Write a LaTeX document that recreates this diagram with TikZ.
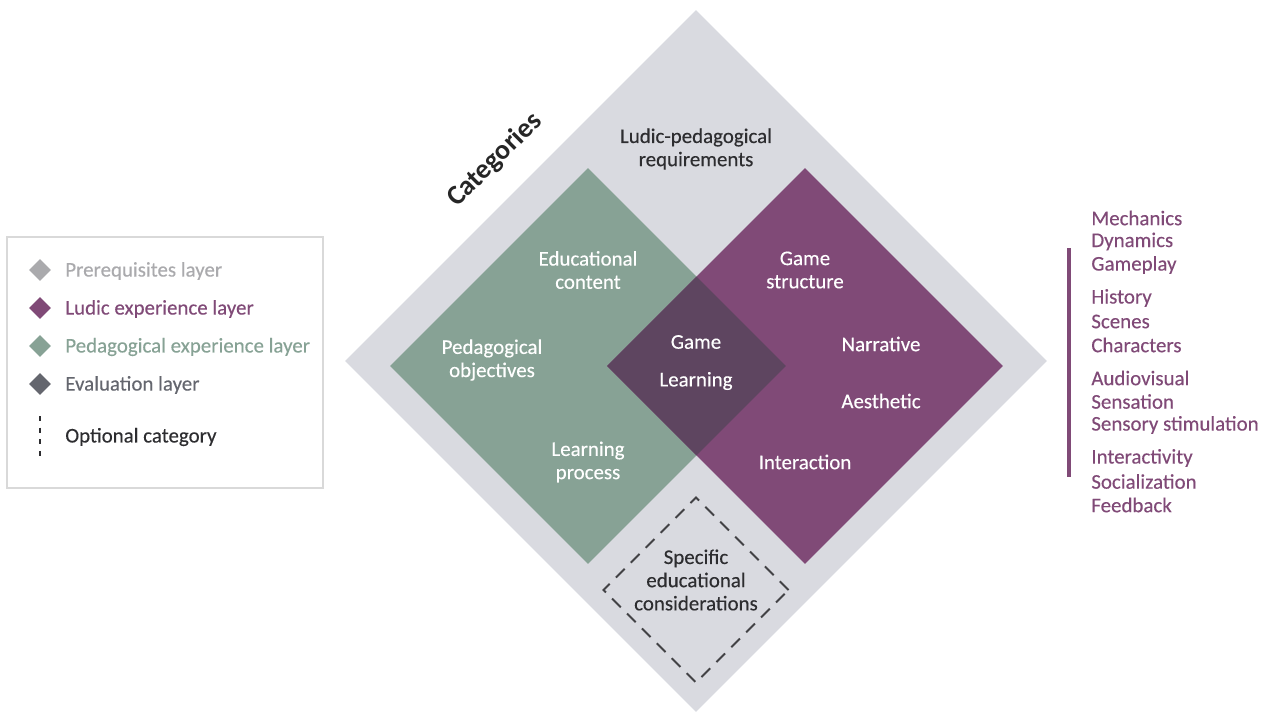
\documentclass[tikz,border=0pt]{standalone}
\usepackage{fontspec}
\setmainfont{Carlito}
\newfontfamily\medium{Carlito}[FakeBold=0.3]
\usetikzlibrary{shapes.geometric}
\definecolor{grisfond}{RGB}{217,218,224}
\definecolor{pedago}{RGB}{135,162,149}
\definecolor{ludique}{RGB}{128,74,119}
\definecolor{evalu}{RGB}{94,69,96}
\definecolor{prereq}{RGB}{170,170,173}
\definecolor{evalgris}{RGB}{100,102,110}
\definecolor{texte}{RGB}{45,45,48}

\begin{document}
\begin{tikzpicture}[x=0.02cm, y=-0.02cm, font=\medium\fontsize{11.9}{13.2}\selectfont,
	losange/.style={diamond, aspect=1, inner sep=0pt},
	blanc/.style={text=white, align=center},
	noir/.style={text=texte, align=center},
	puce/.style={diamond, aspect=1, inner sep=0pt, minimum size=0.44cm},
	legende/.style={anchor=west, inner sep=0pt},
	liste/.style={text=ludique, anchor=west, inner sep=0pt}]
	\useasboundingbox (0,0) rectangle (1272,711);
	
	% layers
	\node[losange, fill=grisfond, minimum size=14.04cm] (req) at (696,361) {};
	\node[losange, fill=pedago, minimum size=7.92cm] (ped) at (588,366) {};
	\node[losange, fill=ludique, minimum size=7.92cm] (lud) at (805,366) {};
	\node[losange, fill=evalu, minimum size=3.58cm] (eva) at (696.5,366) {};
	\node[losange, draw=texte!90, dash pattern=on 7pt off 5pt, line width=1.1pt,
	minimum size=3.72cm] (opt) at (696,590) {};
	
	\node[noir, font=\rmfamily\fontsize{15.8}{18}\selectfont\bfseries, text=black!85,
	rotate=45] (cat) at (495,160) {Categories};
	
	% labels
	\node[noir] (lpr) at (696,149) {Ludic-pedagogical\\requirements};
	\node[blanc] (edc) at (588,270) {Educational\\content};
	\node[blanc] (pob) at (492,360) {Pedagogical\\objectives};
	\node[blanc] (lpc) at (588,462) {Learning\\process};
	\node[blanc] (gam) at (696,342) {Game};
	\node[blanc] (lrn) at (696,381) {Learning};
	\node[blanc] (gst) at (805,270) {Game\\structure};
	\node[blanc] (nar) at (881,344) {Narrative};
	\node[blanc] (aes) at (881,401) {Aesthetic};
	\node[blanc] (int) at (805,462) {Interaction};
	\node[noir] (sec) at (696,580) {Specific\\educational\\considerations};
	
	% legend
	\node[draw=black!15, line width=0.8pt, minimum width=6.32cm, minimum height=5.02cm,
	inner sep=0pt] (leg) at (165,362.5) {};
	\node[puce, fill=prereq] (p1) at (40,270) {};
	\node[puce, fill=ludique] (p2) at (40,308) {};
	\node[puce, fill=pedago] (p3) at (40,346) {};
	\node[puce, fill=evalgris] (p4) at (40,384) {};
	\coordinate (o1) at (40,416);
	\coordinate (o2) at (40,459);
	\draw[texte, line width=1.4pt, dash pattern=on 3pt off 3.6pt] (o1) -- (o2);
	\node[legende, text=prereq] (l1) at (65,271) {Prerequisites layer};
	\node[legende, text=ludique] (l2) at (65,309) {Ludic experience layer};
	\node[legende, text=pedago] (l3) at (65,347) {Pedagogical experience layer};
	\node[legende, text=evalgris] (l4) at (65,385) {Evaluation layer};
	\node[legende, text=texte] (l5) at (65,437) {Optional category};
	
	% ludic components
	\coordinate (b1) at (1069,248);
	\coordinate (b2) at (1069,477);
	\draw[ludique, line width=2pt] (b1) -- (b2);
	\node[liste] (m1) at (1091,218) {Mechanics};
	\node[liste] (m2) at (1091,241.5) {Dynamics};
	\node[liste] (m3) at (1091,265) {Gameplay};
	\node[liste] (m4) at (1091,298) {History};
	\node[liste] (m5) at (1091,321.5) {Scenes};
	\node[liste] (m6) at (1091,345) {Characters};
	\node[liste] (m7) at (1091,378) {Audiovisual};
	\node[liste] (m8) at (1091,401.5) {Sensation};
	\node[liste] (m9) at (1091,425) {Sensory stimulation};
	\node[liste] (m10) at (1091,458) {Interactivity};
	\node[liste] (m11) at (1091,481.5) {Socialization};
	\node[liste] (m12) at (1091,505) {Feedback};
\end{tikzpicture}
\end{document}
